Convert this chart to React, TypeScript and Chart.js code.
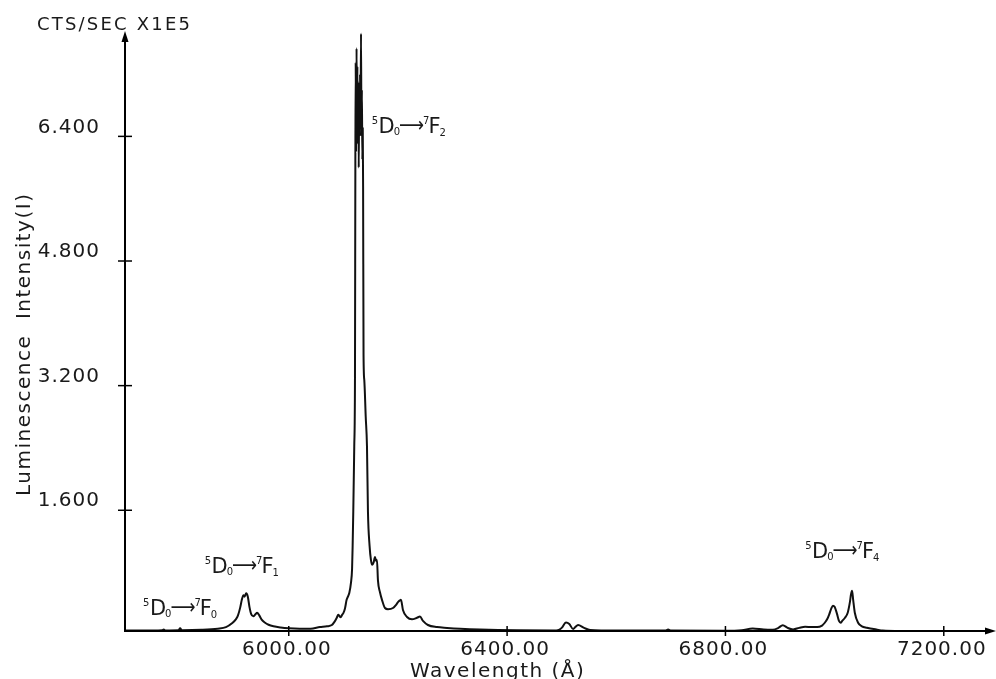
import React, { useEffect, useRef } from 'react';
import { Chart, registerables } from 'chart.js';

Chart.register(...registerables);

// Wavelength (Å) of each sampled point of the spectrum
const wavelengths = [
  5700, 5730, 5768, 5771, 5774, 5798, 5801, 5804, 5840, 5870,
  5885, 5896, 5903, 5907, 5911, 5914, 5917, 5919, 5922, 5925,
  5928, 5931, 5935, 5939, 5942, 5946, 5950, 5956, 5963, 5972,
  5985, 6000, 6020, 6040, 6057, 6070, 6079, 6084, 6088, 6090.7,
  6093, 6095, 6098, 6100, 6103, 6106, 6109, 6111, 6114, 6116,
  6117, 6118.2, 6120, 6121.3, 6122.0, 6122.6, 6123.4, 6124.2, 6125.0, 6125.8,
  6126.6, 6127.4, 6128.2, 6129.0, 6129.8, 6130.6, 6131.4, 6132.4, 6133.2, 6134.0,
  6134.8, 6135.6, 6136.2, 6137.0, 6138.4, 6141, 6143.3, 6145.1, 6148, 6150.6,
  6153, 6155.5, 6158, 6160, 6161.6, 6163.4, 6167, 6170.8, 6176.3, 6181.8,
  6191, 6197, 6200.1, 6203, 6205.6, 6209.2, 6216.6, 6225.7, 6235, 6240.4,
  6245.9, 6255, 6271.5, 6290, 6314, 6350, 6420, 6490, 6495, 6500,
  6508, 6514, 6521, 6525, 6530, 6541, 6552, 6600, 6690, 6695,
  6700, 6799, 6830, 6850, 6870, 6887, 6897, 6905, 6914, 6924,
  6935, 6946, 6958, 6968, 6977, 6982, 6987, 6990, 6994, 6997,
  7000, 7004, 7008, 7011, 7014, 7019, 7024, 7028, 7030, 7032,
  7034, 7037, 7043, 7050, 7059, 7078, 7088, 7120, 7200,
];

// Luminescence intensity (CTS/SEC x1E5) at each wavelength above
const intensity = [
  0.055, 0.055, 0.06, 0.07, 0.058, 0.06, 0.085, 0.06, 0.065, 0.08,
  0.1, 0.15, 0.2, 0.25, 0.35, 0.45, 0.51, 0.49, 0.534, 0.49,
  0.36, 0.27, 0.24, 0.265, 0.285, 0.25, 0.2, 0.16, 0.13, 0.11,
  0.095, 0.085, 0.08, 0.08, 0.1, 0.11, 0.127, 0.17, 0.22, 0.26,
  0.24, 0.226, 0.26, 0.28, 0.34, 0.45, 0.5, 0.54, 0.67, 0.85,
  1.13, 1.58, 2.42, 3.28, 5.97, 7.35, 6.2, 7.53, 6.6, 7.3,
  6.3, 7.1, 6.0, 6.9, 6.4, 7.2, 6.5, 7.72, 6.4, 7.0,
  6.1, 6.5, 5.75, 3.6, 3.27, 2.8, 2.42, 1.58, 1.15, 0.96,
  0.9, 0.93, 1.0, 0.95, 0.96, 0.7, 0.55, 0.45, 0.345, 0.33,
  0.345, 0.39, 0.42, 0.44, 0.45, 0.32, 0.23, 0.2, 0.22, 0.235,
  0.18, 0.127, 0.1, 0.09, 0.08, 0.07, 0.06, 0.058, 0.065, 0.09,
  0.16, 0.14, 0.075, 0.1, 0.127, 0.09, 0.063, 0.055, 0.055, 0.07,
  0.055, 0.052, 0.06, 0.083, 0.07, 0.067, 0.09, 0.125, 0.09, 0.07,
  0.09, 0.105, 0.1, 0.1, 0.12, 0.156, 0.21, 0.26, 0.34, 0.375,
  0.36, 0.28, 0.18, 0.156, 0.18, 0.22, 0.285, 0.42, 0.52, 0.567,
  0.45, 0.285, 0.156, 0.11, 0.092, 0.067, 0.056, 0.05, 0.05,
];

const xTickValues = [6000, 6400, 6800, 7200];
const yTickValues = [1.6, 3.2, 4.8, 6.4];
const xMin = 5700;
const xMax = 7292;
const yMin = 0.05;
const yMax = 7.74;

const unitLabel = 'CTS/SEC X1E5';
const xTitle = 'Wavelength (Å)';
const yTitle = 'Luminescence  Intensity(I)';

// Transition annotations: final-state subscript, and anchor (wavelength, intensity)
const transitionFinal = ['0', '1', '2', '4'];
const transitionWavelength = [5733, 5846, 6152, 6946];
const transitionLevel = [0.255, 0.795, 6.44, 0.987];

const SANS = '"DejaVu Sans", "Liberation Sans", sans-serif';
const INK = '#1a1a1a';

function drawTransition(ctx: CanvasRenderingContext2D, x: number, y: number, finalState: string) {
  const big = `21px ${SANS}`;
  const small = `10px ${SANS}`;
  ctx.textAlign = 'left';
  ctx.textBaseline = 'alphabetic';
  let cx = x;
  ctx.font = small;
  ctx.fillText('5', cx, y - 9);
  cx += ctx.measureText('5').width + 0.5;
  ctx.font = big;
  ctx.fillText('D', cx, y);
  cx += ctx.measureText('D').width - 1;
  ctx.font = small;
  ctx.fillText('0', cx, y + 2);
  cx += ctx.measureText('0').width - 1;
  // long arrow, stretched to the plotted length
  ctx.font = big;
  const arrow = '⟶';
  const aw = ctx.measureText(arrow).width || 20;
  const target = 25;
  ctx.save();
  ctx.translate(cx, y - 1);
  ctx.scale(target / aw, 1);
  ctx.fillText(arrow, 0, 0);
  ctx.restore();
  cx += target - 1;
  ctx.font = small;
  ctx.fillText('7', cx, y - 9);
  cx += ctx.measureText('7').width - 1;
  ctx.font = big;
  ctx.fillText('F', cx, y);
  cx += ctx.measureText('F').width - 1;
  ctx.font = small;
  ctx.fillText(finalState, cx, y + 3);
}

const spacingPlugin = {
  id: 'plotterSpacing',
  beforeDraw(chart: any) {
    (chart.ctx as any).letterSpacing = '1px';
  },
};

const decorPlugin = {
  id: 'plotterDecor',
  afterDraw(chart: any) {
    const { ctx, chartArea: a, scales } = chart;
    const xs = scales.x;
    const ys = scales.y;
    ctx.save();
    ctx.strokeStyle = '#000';
    ctx.fillStyle = '#000';
    ctx.lineCap = 'butt';
    (ctx as any).letterSpacing = '0px';

    // axes
    ctx.lineWidth = 2;
    ctx.beginPath();
    ctx.moveTo(a.left, a.bottom + 1);
    ctx.lineTo(a.left, a.top + 4);
    ctx.stroke();
    ctx.beginPath();
    ctx.moveTo(a.left, a.top - 1);
    ctx.lineTo(a.left - 3.5, a.top + 10);
    ctx.lineTo(a.left + 3.5, a.top + 10);
    ctx.closePath();
    ctx.fill();

    ctx.beginPath();
    ctx.moveTo(a.left - 1, a.bottom);
    ctx.lineTo(a.right - 4, a.bottom);
    ctx.stroke();
    ctx.beginPath();
    ctx.moveTo(a.right + 2, a.bottom);
    ctx.lineTo(a.right - 9, a.bottom - 3.5);
    ctx.lineTo(a.right - 9, a.bottom + 3.5);
    ctx.closePath();
    ctx.fill();

    // tick marks crossing the axes
    ctx.lineWidth = 1.5;
    yTickValues.forEach((v) => {
      const p = ys.getPixelForValue(v);
      ctx.beginPath();
      ctx.moveTo(a.left - 7, p);
      ctx.lineTo(a.left + 7, p);
      ctx.stroke();
    });
    xTickValues.forEach((v) => {
      const p = xs.getPixelForValue(v);
      ctx.beginPath();
      ctx.moveTo(p, a.bottom - 5);
      ctx.lineTo(p, a.bottom + 5);
      ctx.stroke();
    });

    // texts
    ctx.fillStyle = INK;
    ctx.textAlign = 'left';
    ctx.textBaseline = 'alphabetic';
    ctx.font = `18px ${SANS}`;
    (ctx as any).letterSpacing = '2.2px';
    ctx.fillText(unitLabel, 37, 30);

    ctx.font = `20px ${SANS}`;
    (ctx as any).letterSpacing = '1.5px';
    ctx.fillText(xTitle, 410, 677);

    ctx.save();
    ctx.translate(30, 496);
    ctx.rotate(-Math.PI / 2);
    ctx.fillText(yTitle, 0, 0);
    ctx.restore();

    (ctx as any).letterSpacing = '0px';
    transitionFinal.forEach((f, i) => {
      const px = xs.getPixelForValue(transitionWavelength[i]);
      const py = ys.getPixelForValue(transitionLevel[i]);
      drawTransition(ctx, px, py, f);
    });
    ctx.restore();
  },
};

export default function App() {
  const ref = useRef<HTMLCanvasElement | null>(null);

  useEffect(() => {
    const canvas = ref.current;
    if (!canvas) return;
    const points = wavelengths.map((w, i) => ({ x: w, y: intensity[i] }));
    const tickFont = { family: SANS, size: 20 };
    const chart = new Chart(canvas, {
      type: 'line',
      data: {
        datasets: [
          {
            data: points,
            borderColor: '#111',
            borderWidth: 2,
            pointRadius: 0,
            fill: false,
            cubicInterpolationMode: 'monotone',
          },
        ],
      },
      options: {
        responsive: false,
        animation: false,
        devicePixelRatio: 1,
        layout: { padding: { left: 0, top: 32, right: 2, bottom: 0 } },
        plugins: { legend: { display: false }, tooltip: { enabled: false } },
        scales: {
          x: {
            type: 'linear',
            min: xMin,
            max: xMax,
            grid: { display: false, drawTicks: false },
            border: { display: false },
            afterBuildTicks: (s: any) => {
              s.ticks = xTickValues.map((v) => ({ value: v }));
            },
            afterFit: (s: any) => {
              s.height = 48;
              s.paddingLeft = 0;
              s.paddingRight = 0;
            },
            ticks: {
              autoSkip: false,
              maxRotation: 0,
              minRotation: 0,
              padding: 7,
              labelOffset: -2,
              color: INK,
              font: tickFont,
              callback: (v: any) => Number(v).toFixed(2),
            },
          },
          y: {
            type: 'linear',
            min: yMin,
            max: yMax,
            grid: { display: false, drawTicks: false },
            border: { display: false },
            afterBuildTicks: (s: any) => {
              s.ticks = yTickValues.map((v) => ({ value: v }));
            },
            afterFit: (s: any) => {
              s.width = 125;
              s.paddingTop = 0;
              s.paddingBottom = 0;
            },
            ticks: {
              autoSkip: false,
              padding: 25,
              labelOffset: -9,
              color: INK,
              font: tickFont,
              callback: (v: any) => Number(v).toFixed(3),
            },
          },
        },
      },
      plugins: [spacingPlugin, decorPlugin],
    } as any);
    return () => chart.destroy();
  }, []);

  return (
    <div style={{ position: 'fixed', left: 0, top: 0, width: 996, height: 679, background: '#fff' }}>
      <canvas ref={ref} width={996} height={679} style={{ display: 'block', width: 996, height: 679 }} />
    </div>
  );
}
